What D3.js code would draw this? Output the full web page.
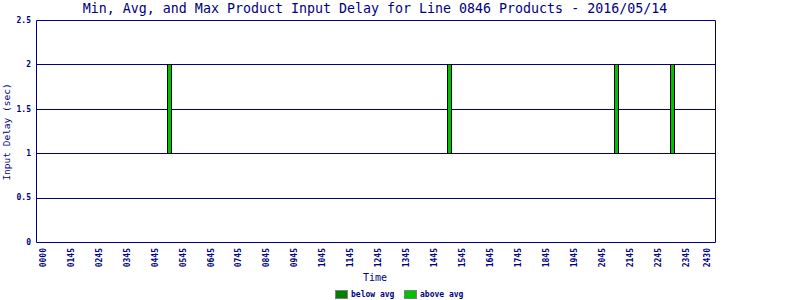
<!DOCTYPE html>
<html>
<head>
<meta charset="utf-8">
<script src="https://cdn.jsdelivr.net/npm/d3@7"></script>
<style>
  body { margin: 0; background: #fff; }
  text { font-family: "DejaVu Sans Mono", "Liberation Mono", monospace; fill: #000080; }
</style>
</head>
<body>
<div id="chart"></div>
<script>
// tick labels along the time axis and where they sit (hours)
var tickLabels = ["0000", "0145", "0245", "0345", "0445", "0545", "0645", "0745", "0845", "0945",
  "1045", "1145", "1245", "1345", "1445", "1545", "1645", "1745", "1845", "1945",
  "2045", "2145", "2245", "2345", "2430"];
var tickHours = [0.75, 1.75, 2.75, 3.75, 4.75, 5.75, 6.75, 7.75, 8.75, 9.75,
  10.75, 11.75, 12.75, 13.75, 14.75, 15.75, 16.75, 17.75, 18.75, 19.75,
  20.75, 21.75, 22.75, 23.75, 24.5];

// products (hours of day) with min / avg / max input delay
var barHours = [5.3, 15.3, 21.3, 23.3];
var minDelay = [1, 1, 1, 1];
var avgDelay = [1, 1, 1, 1];
var maxDelay = [2, 2, 2, 2];

var yTicks = [0, 0.5, 1, 1.5, 2, 2.5];
var legendNames = ["below avg", "above avg"];
var legendColors = ["#008000", "#00c000"];

var svgWidth = 800, svgHeight = 300;
var plot = { left: 36, right: 715, top: 20, bottom: 242 };
var navy = "#000080";

var svg = d3.select("#chart").append("svg")
  .attr("width", svgWidth)
  .attr("height", svgHeight);

var x = d3.scaleLinear().domain([0.5, 24.79]).range([plot.left, plot.right]);
var y = d3.scaleLinear().domain([0, 2.5]).range([plot.bottom, plot.top]);
var crisp = v => Math.round(v) + 0.5;

// gridlines
svg.append("g").selectAll("line")
  .data(yTicks.filter(d => d > 0 && d < 2.5))
  .enter().append("line")
  .attr("x1", plot.left).attr("x2", plot.right)
  .attr("y1", d => crisp(y(d))).attr("y2", d => crisp(y(d)))
  .attr("stroke", navy).attr("stroke-width", 1);

// frame around the plot
svg.append("path")
  .attr("d", `M${crisp(plot.left)},${crisp(plot.top)} H${crisp(plot.right)} V${crisp(plot.bottom)} H${crisp(plot.left)} Z`)
  .attr("stroke", navy).attr("stroke-width", 1).attr("fill", "none");

// y tick labels
svg.append("g").selectAll("text")
  .data(yTicks)
  .enter().append("text")
  .attr("x", 31)
  .attr("y", d => y(d))
  .attr("dy", "0.35em")
  .attr("text-anchor", "end")
  .attr("font-size", "8px")
  .attr("font-weight", "bold")
  .text(d => d);

// x tick labels, rotated
svg.append("g").selectAll("text")
  .data(tickHours)
  .enter().append("text")
  .attr("transform", d => `translate(${x(d)},248)rotate(-90)`)
  .attr("dy", "0.35em")
  .attr("text-anchor", "end")
  .attr("font-size", "8px")
  .attr("font-weight", "bold")
  .text((d, i) => tickLabels[i]);

// bars: below avg (min -> avg) and above avg (avg -> max)
var bars = svg.append("g");
barHours.forEach((h, i) => {
  var bx = Math.floor(x(h) - 2.5) + 0.5;
  if (avgDelay[i] > minDelay[i]) {
    bars.append("rect")
      .attr("x", bx).attr("width", 4)
      .attr("y", crisp(y(avgDelay[i])))
      .attr("height", crisp(y(minDelay[i])) - crisp(y(avgDelay[i])))
      .attr("fill", legendColors[0]).attr("stroke", "#000");
  }
  if (maxDelay[i] > avgDelay[i]) {
    bars.append("rect")
      .attr("x", bx).attr("width", 4)
      .attr("y", crisp(y(maxDelay[i])))
      .attr("height", crisp(y(avgDelay[i])) - crisp(y(maxDelay[i])))
      .attr("fill", legendColors[1]).attr("stroke", "#000");
  }
});

// title and axis titles
svg.append("text")
  .attr("x", 375).attr("y", 13)
  .attr("text-anchor", "middle")
  .attr("font-size", "13.3px")
  .text("Min, Avg, and Max Product Input Delay for Line 0846 Products - 2016/05/14");

svg.append("text")
  .attr("x", 375).attr("y", 281)
  .attr("text-anchor", "middle")
  .attr("font-size", "10px")
  .text("Time");

svg.append("text")
  .attr("transform", "translate(10,132)rotate(-90)")
  .attr("text-anchor", "middle")
  .attr("font-size", "9.5px")
  .text("Input Delay (sec)");

// legend
var legend = svg.append("g").selectAll("g")
  .data(legendNames)
  .enter().append("g")
  .attr("transform", (d, i) => `translate(${335 + i * 69},0)`);

legend.append("rect")
  .attr("x", 0.5).attr("y", 290.5)
  .attr("width", 12).attr("height", 8)
  .attr("fill", (d, i) => legendColors[i])
  .attr("stroke", "#808080");

legend.append("text")
  .attr("x", 16).attr("y", 297)
  .attr("font-size", "8px")
  .attr("font-weight", "bold")
  .text(d => d);
</script>
</body>
</html>
